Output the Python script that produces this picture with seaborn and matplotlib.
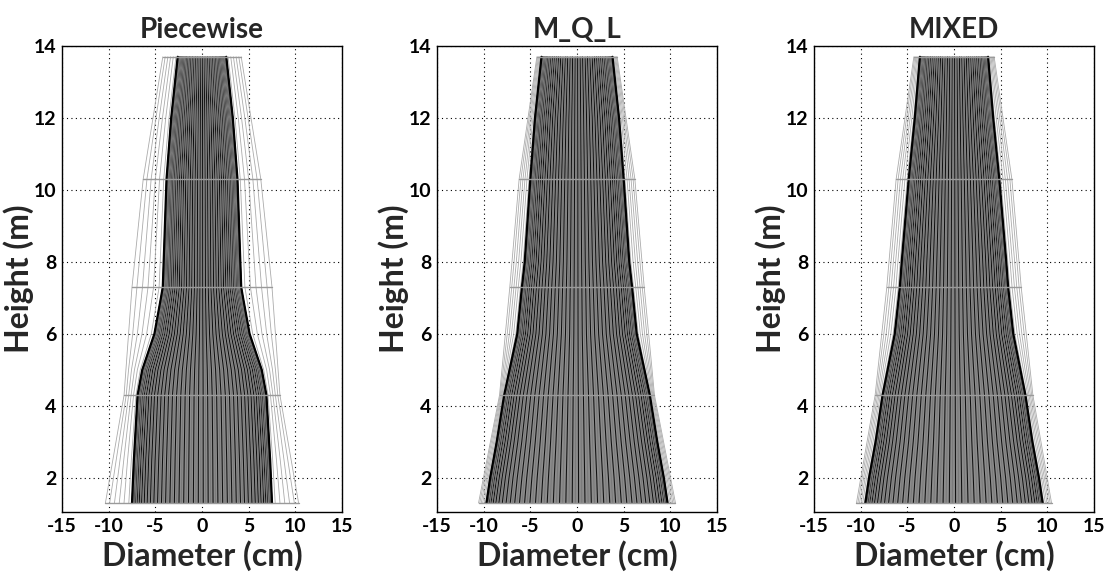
import numpy as np
import pandas as pd
import matplotlib
matplotlib.use("Agg")
import matplotlib.pyplot as plt
import seaborn as sns

# ---------------- data ----------------
titles = ["Piecewise", "M_Q_L", "MIXED"]

# fitted stem profile (half width, cm) at heights (m)
piecewise_h = [1.3, 2.5, 4.3, 5.0, 6.0, 7.0, 7.3, 10.3, 12.0, 13.7]
piecewise_r = [7.5, 7.3, 6.9, 6.4, 5.1, 4.4, 4.2, 3.8, 3.3, 2.6]

mql_h = [1.3, 2.0, 3.0, 4.3, 6.0, 7.3, 8.0, 10.3, 12.0, 13.7]
mql_r = [9.7, 9.3, 8.6, 7.8, 6.4, 5.9, 5.6, 5.0, 4.5, 3.8]

mixed_h = [1.3, 2.0, 3.0, 4.3, 6.0, 7.3, 8.0, 10.3, 12.0, 13.7]
mixed_r = [9.5, 9.1, 8.4, 7.65, 6.35, 5.8, 5.6, 4.85, 4.2, 3.65]

# outer envelope (half width, cm) at section heights (m)
section_h = [1.3, 4.3, 7.3, 10.3, 13.7]
piecewise_outer = [10.35, 8.35, 7.5, 6.3, 4.2]
mql_outer = [10.55, 8.3, 7.2, 6.2, 4.3]
mixed_outer = [10.45, 8.45, 7.2, 6.2, 4.3]

profiles_h = [piecewise_h, mql_h, mixed_h]
profiles_r = [piecewise_r, mql_r, mixed_r]
outers = [piecewise_outer, mql_outer, mixed_outer]

x_ticks = [-15, -10, -5, 0, 5, 10, 15]
y_ticks = [2, 4, 6, 8, 10, 12, 14]

# ---------------- style ----------------
sns.set_style("white")
plt.rcParams["font.family"] = ["Lato", "DejaVu Sans"]
plt.rcParams["font.weight"] = "bold"

N_MERIDIANS = 90
OUTER_FRACS = [0.12, 0.3, 0.48, 0.66, 0.84, 1.0]

fig = plt.figure(figsize=(11.05, 5.74), dpi=100)
lefts = [62 / 1105, 437 / 1105, 814 / 1105]
width = 280 / 1105
bottom = 1 - 512 / 574
height = (512 - 46) / 574

for i in range(3):
    ax = fig.add_axes([lefts[i], bottom, width, height])
    h = np.array(profiles_h[i])
    r = np.array(profiles_r[i])
    sh = np.array(section_h)
    so = np.array(outers[i])
    outer_at_h = np.interp(h, sh, so)

    # light grey envelope lines between fitted profile and outer envelope
    rows = []
    for k, f in enumerate(OUTER_FRACS):
        rr = r + f * (outer_at_h - r)
        for side, s in (("L", -1), ("R", 1)):
            for hv, xv in zip(h, s * rr):
                rows.append((f"{k}{side}", xv, hv))
    df_out = pd.DataFrame(rows, columns=["line", "x", "h"])
    sns.lineplot(data=df_out, x="x", y="h", units="line", estimator=None,
                 sort=False, color="#ababab", lw=0.6, ax=ax, zorder=2)

    # filled stem
    ax.fill_betweenx(h, -r, r, color="#8c8c8c", lw=0, zorder=3)

    # meridian lines of the stem surface
    theta = np.linspace(0, np.pi, N_MERIDIANS)
    rows = []
    for k, t in enumerate(theta):
        grp = "dark" if k % 2 == 0 else "mid"
        for hv, xv in zip(h, np.cos(t) * r):
            rows.append((k, grp, xv, hv))
    df_m = pd.DataFrame(rows, columns=["line", "grp", "x", "h"])
    sns.lineplot(data=df_m, x="x", y="h", units="line", estimator=None,
                 sort=False, hue="grp", palette={"dark": "#101010", "mid": "#7a7a7a"},
                 lw=0.75, legend=False, ax=ax, zorder=4)
    # edges
    ax.plot(-r, h, color="#000000", lw=1.6, zorder=4)
    ax.plot(r, h, color="#000000", lw=1.6, zorder=4)

    # section lines
    for hv, ov in zip(sh, so):
        ax.plot([-ov, ov], [hv, hv], color="#9a9a9a", lw=1.0, zorder=5)

    ax.set_xlim(-15, 15)
    ax.set_ylim(1.05, 14)
    ax.set_xticks(x_ticks)
    ax.set_yticks(y_ticks)
    ax.set_xticklabels([str(v) for v in x_ticks], fontsize=14, fontweight="bold")
    ax.set_yticklabels([str(v) for v in y_ticks], fontsize=14, fontweight="bold")
    ax.set_axisbelow(True)
    ax.grid(True, color="black", linestyle=(0, (1, 3)), lw=0.8)
    for sp in ax.spines.values():
        sp.set_visible(True)
        sp.set_color("black")
        sp.set_linewidth(1.0)
    ax.tick_params(direction="in", length=2, pad=4, colors="black")
    ax.set_title(titles[i], fontsize=20, fontweight="bold", pad=6)
    ax.set_xlabel("Diameter (cm)", fontsize=23, fontweight="bold", labelpad=4)
    ax.set_ylabel("Height (m)", fontsize=23, fontweight="bold", labelpad=0)

fig.savefig("out.png", dpi=100)
